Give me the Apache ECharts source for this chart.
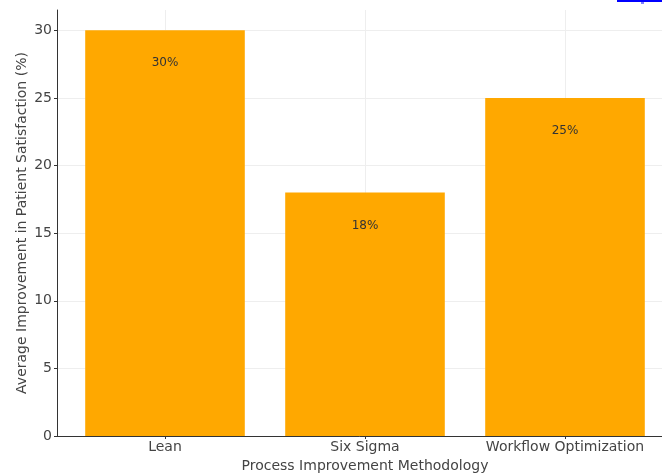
<!DOCTYPE html>
<html>
<head>
<meta charset="utf-8">
<script src="https://cdn.jsdelivr.net/npm/echarts@6/dist/echarts.min.js"></script>
<style>html,body{margin:0;padding:0;background:#fff;}#c{width:662px;height:474px;}</style>
</head>
<body>
<div id="c"></div>
<script>
const categories = ['Lean', 'Six Sigma', 'Workflow Optimization'];
const values = [30, 18, 25];
const yTicks = [0, 5, 10, 15, 20, 25, 30];
const xTitle = 'Process Improvement Methodology';
const yTitle = 'Average Improvement in Patient Satisfaction (%)';

const chart = echarts.init(document.getElementById('c'), null, {renderer: 'canvas'});
const font = 'DejaVu Sans';
const xIdx = categories.map((c, i) => i);
chart.setOption({
  animation: false,
  backgroundColor: '#fff',
  grid: {left: 57, top: 10, width: 616, height: 426, containLabel: false, outerBoundsMode: 'none'},
  xAxis: {
    type: 'value', min: -0.54, max: 2.54,
    name: xTitle, nameLocation: 'middle', nameGap: 22,
    nameTextStyle: {fontFamily: font, fontSize: 14, color: '#444'},
    axisLine: {show: true, onZero: false, lineStyle: {color: '#333', width: 1}},
    axisTick: {show: true, length: 3, customValues: xIdx, lineStyle: {color: '#333'}},
    axisLabel: {customValues: xIdx, formatter: v => categories[Math.round(v)] || '', fontFamily: font, fontSize: 14, color: '#444', margin: 4},
    splitLine: {show: true, lineStyle: {color: '#eeeeee', width: 1}}
  },
  yAxis: {
    type: 'value', min: 0, max: 31.5,
    name: yTitle, nameLocation: 'middle', nameGap: 28, nameMoveOverlap: false,
    nameTextStyle: {fontFamily: font, fontSize: 14, color: '#444'},
    axisLine: {show: true, onZero: false, lineStyle: {color: '#333', width: 1}},
    axisTick: {show: true, length: 3, customValues: yTicks, lineStyle: {color: '#333'}},
    axisLabel: {customValues: yTicks, fontFamily: font, fontSize: 14, color: '#444', margin: 5},
    splitLine: {show: true, lineStyle: {color: '#eeeeee', width: 1}}
  },
  series: [{
    type: 'bar',
    data: values.map((v, i) => [i, v]),
    barWidth: 159.6,
    itemStyle: {color: '#FFA800'},
    label: {show: true, position: 'insideTop', distance: 27, formatter: p => p.value[1] + '%', fontFamily: font, fontSize: 12, color: '#333'}
  }],
  graphic: [
    {type: 'rect', shape: {x: 617, y: 0, width: 45, height: 2}, style: {fill: '#0000ff'}},
    {type: 'rect', shape: {x: 641, y: 2, width: 3, height: 2}, style: {fill: '#8080ff'}}
  ]
});
</script>
</body>
</html>
